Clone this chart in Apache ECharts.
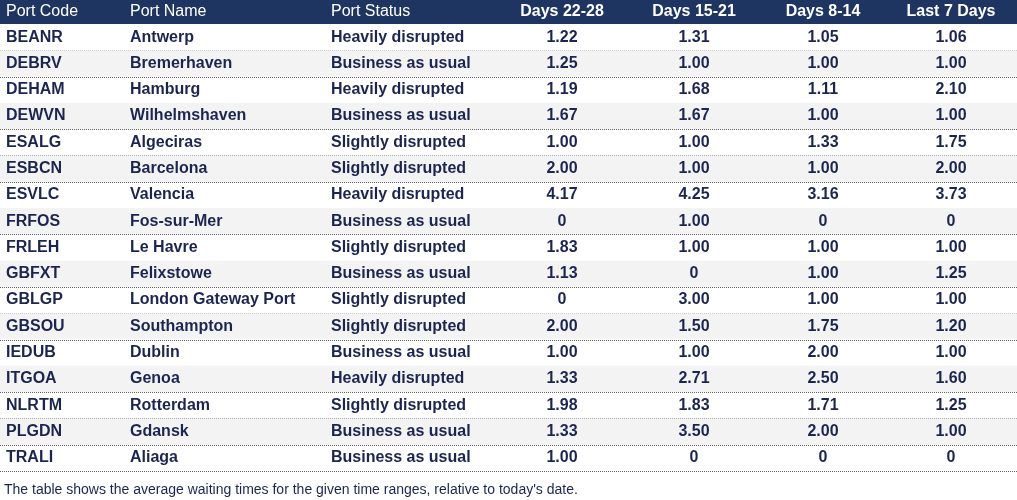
<!DOCTYPE html>
<html><head><meta charset="utf-8">
<script src="https://cdn.jsdelivr.net/npm/echarts@6/dist/echarts.min.js"></script>
<style>html,body{margin:0;padding:0;background:#fff}#c{width:1017px;height:500px}</style>
</head><body><div id="c"></div>
<script>
const headers = ['Port Code','Port Name','Port Status','Days 22-28','Days 15-21','Days 8-14','Last 7 Days'];
const codes = ['BEANR','DEBRV','DEHAM','DEWVN','ESALG','ESBCN','ESVLC','FRFOS','FRLEH','GBFXT','GBLGP','GBSOU','IEDUB','ITGOA','NLRTM','PLGDN','TRALI'];
const names = ['Antwerp','Bremerhaven','Hamburg','Wilhelmshaven','Algeciras','Barcelona','Valencia','Fos-sur-Mer','Le Havre','Felixstowe','London Gateway Port','Southampton','Dublin','Genoa','Rotterdam','Gdansk','Aliaga'];
const statuses = ['Heavily disrupted','Business as usual','Heavily disrupted','Business as usual','Slightly disrupted','Slightly disrupted','Heavily disrupted','Business as usual','Slightly disrupted','Business as usual','Slightly disrupted','Slightly disrupted','Business as usual','Heavily disrupted','Slightly disrupted','Business as usual','Business as usual'];
const days22_28 = ['1.22','1.25','1.19','1.67','1.00','2.00','4.17','0','1.83','1.13','0','2.00','1.00','1.33','1.98','1.33','1.00'];
const days15_21 = ['1.31','1.00','1.68','1.67','1.00','1.00','4.25','1.00','1.00','0','3.00','1.50','1.00','2.71','1.83','3.50','0'];
const days8_14 = ['1.05','1.00','1.11','1.00','1.33','1.00','3.16','0','1.00','1.00','1.00','1.75','2.00','2.50','1.71','2.00','0'];
const last7 = ['1.06','1.00','2.10','1.00','1.75','2.00','3.73','0','1.00','1.25','1.00','1.20','1.00','1.60','1.25','1.00','0'];
const footnote = "The table shows the average waiting times for the given time ranges, relative to today's date.";

const colX = [6,130,331,562,694,823,951];
const colAlign = ['left','left','left','center','center','center','center'];
const navy = '#1b2550';
const rows = codes.map((c,i)=>[i,c,names[i],statuses[i],days22_28[i],days15_21[i],days8_14[i],last7[i]]);
const font = '"Liberation Sans", Arial, sans-serif';

const chart = echarts.init(document.getElementById('c'));
chart.setOption({
  animation:false,
  grid:{left:0,right:0,top:24,bottom:29},
  xAxis:{type:'value',min:0,max:1017,show:false},
  yAxis:{type:'category',inverse:true,data:codes,show:false},
  graphic:[
    {type:'rect',shape:{x:0,y:0,width:1017,height:24},style:{fill:'#1e3461'}},
    ...headers.map((h,j)=>({type:'text',x:colX[j],y:12,style:{text:h,fill:'#fff',font:(j>=3?'bold ':'')+'16px '+font,align:colAlign[j],verticalAlign:'middle'}})),
    {type:'text',x:4,y:490,style:{text:footnote,fill:'#1b2550',font:'14px '+font,verticalAlign:'middle'}}
  ],
  series:[{
    type:'custom',
    data:rows,
    encode:{y:0},
    renderItem:function(params,api){
      const i=api.value(0);
      const p=api.coord([0,i]);
      const h=api.size([0,1])[1];
      const top=p[1]-h/2;
      const children=[];
      if(i%2===1) children.push({type:'rect',shape:{x:0,y:top,width:1017,height:h},style:{fill:'#f3f3f3'}});
      const ly=Math.round(top+h)+0.5;
      children.push({type:'line',shape:{x1:0,y1:ly,x2:1017,y2:ly},style:{stroke:'#666',lineWidth:1,lineDash:[1,1]}});
      const r=rows[i];
      for(let j=0;j<7;j++){
        children.push({type:'text',x:api.coord([colX[j],i])[0],y:p[1],style:{text:r[j+1],fill:navy,font:'bold 16px '+font,align:colAlign[j],verticalAlign:'middle'}});
      }
      return {type:'group',children};
    }
  }]
});
</script></body></html>
